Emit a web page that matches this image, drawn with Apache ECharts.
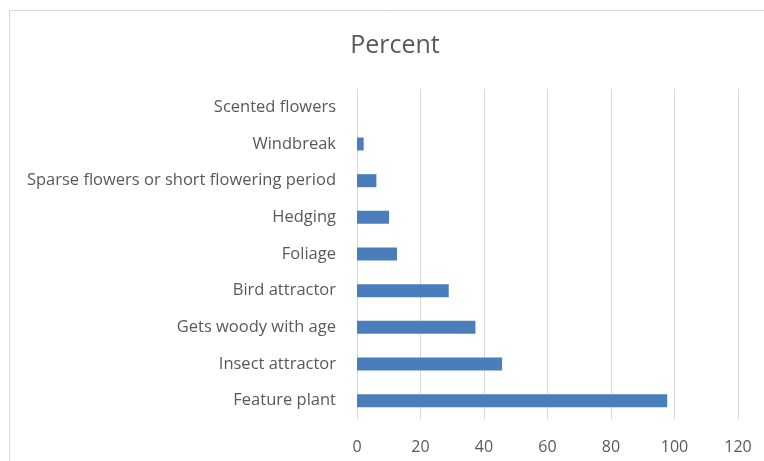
<!DOCTYPE html>
<html>
<head>
<meta charset="utf-8">
<script src="https://cdn.jsdelivr.net/npm/echarts@6/dist/echarts.min.js"></script>
<style>
html,body{margin:0;padding:0;background:#fff;}
#chart{width:764px;height:461px;}
</style>
</head>
<body>
<div id="chart"></div>
<script>
// Plant attributes, listed bottom to top as they appear on the category axis
const categories = [
  'Feature plant',
  'Insect attractor',
  'Gets woody with age',
  'Bird attractor',
  'Foliage',
  'Hedging',
  'Sparse flowers or short flowering period',
  'Windbreak',
  'Scented flowers'
];
const percentValues = [97.7, 45.7, 37.3, 28.9, 12.6, 10.1, 6.1, 2.1, 0];
const xTicks = [0, 20, 40, 60, 80, 100, 120];

const textColor = '#595959';
const fontFamily = '"Open Sans", "Noto Sans", sans-serif';

const chart = echarts.init(document.getElementById('chart'), null, { renderer: 'canvas' });
chart.setOption({
  animation: false,
  backgroundColor: '#ffffff',
  graphic: [{
    type: 'rect',
    silent: true,
    shape: { x: 9.5, y: 10.5, width: 800, height: 500 },
    style: { fill: 'none', stroke: '#d9d9d9', lineWidth: 1 }
  }],
  title: {
    text: 'Percent',
    left: 390,
    top: 28,
    textAlign: 'center',
    textStyle: { color: textColor, fontFamily, fontSize: 25, fontWeight: 'normal' }
  },
  grid: { left: 357, right: 26, top: 89, bottom: 42, containLabel: false },
  xAxis: {
    type: 'value',
    min: xTicks[0],
    max: xTicks[xTicks.length - 1],
    interval: xTicks[1] - xTicks[0],
    axisLine: { show: false },
    axisTick: { show: false },
    axisLabel: { color: textColor, fontFamily, fontSize: 16, margin: 20 },
    splitLine: { show: true, lineStyle: { color: '#d9d9d9', width: 1 } }
  },
  yAxis: {
    type: 'category',
    data: categories,
    axisLine: { show: false },
    axisTick: { show: false },
    axisLabel: { color: textColor, fontFamily, fontSize: 16.5, margin: 21 }
  },
  series: [{
    type: 'bar',
    data: percentValues,
    barWidth: 13,
    itemStyle: { color: '#4a7ebb' }
  }]
});
</script>
</body>
</html>
